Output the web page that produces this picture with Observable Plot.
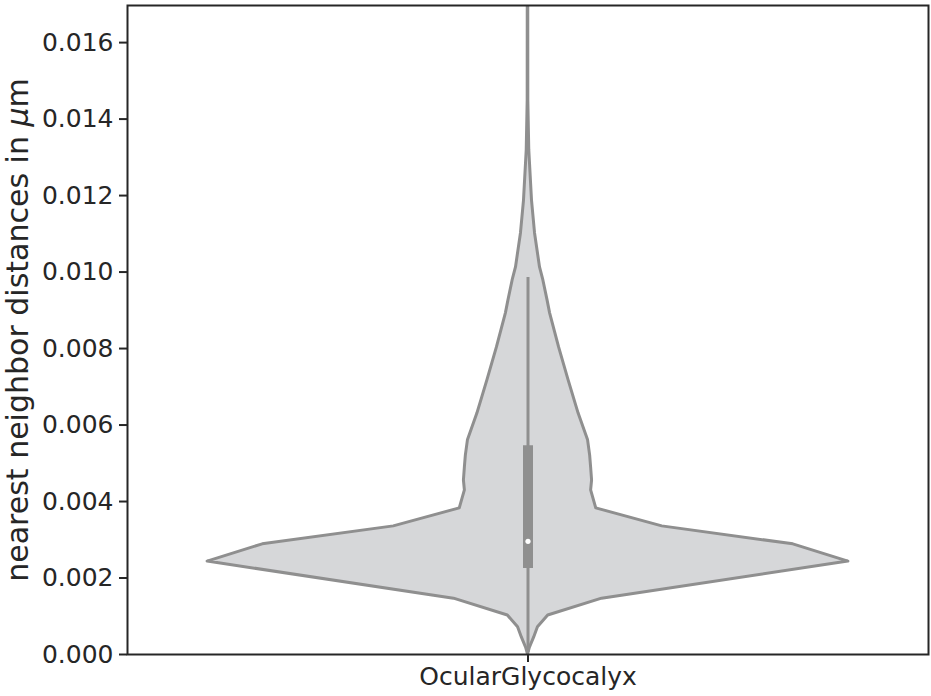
<!DOCTYPE html>
<html>
<head>
<meta charset="utf-8">
<script src="https://cdn.jsdelivr.net/npm/d3@7"></script>
<script src="https://cdn.jsdelivr.net/npm/@observablehq/plot@0.6"></script>
<style>
  html, body { margin: 0; padding: 0; background: #fff; }
  #chart { width: 931px; height: 696px; }
</style>
</head>
<body>
<div id="chart"></div>
<script>
// Category
const categories = ["OcularGlycocalyx"];

// Violin profile: distance value (µm) and relative density (max = 1)
const profileValues = [
  0.00000, 0.00018, 0.00044, 0.00071, 0.00102, 0.00146, 0.00243, 0.00288,
  0.00335, 0.00382, 0.00429, 0.00455, 0.00489, 0.00520, 0.00560, 0.00630,
  0.00716, 0.00803, 0.00892, 0.00926, 0.00978, 0.01012, 0.01101, 0.01187,
  0.01318, 0.01448, 0.01700
];
const profileDensity = [
  0.000, 0.006, 0.019, 0.031, 0.063, 0.231, 1.000, 0.828,
  0.419, 0.213, 0.197, 0.200, 0.197, 0.194, 0.1875, 0.158,
  0.127, 0.097, 0.069, 0.061, 0.048, 0.0375, 0.022, 0.0125,
  0.004, 0.001, 0.0008
];

// Inner box statistics
const whiskerLow = [0.00005];
const whiskerHigh = [0.00986];
const quartile1 = [0.00225];
const quartile3 = [0.00546];
const median = [0.00296];

// Y ticks
const yTicks = [0, 0.002, 0.004, 0.006, 0.008, 0.010, 0.012, 0.014, 0.016];

const yLabel = "nearest neighbor distances in μm";

const violin = profileValues.map((v, i) => ({cat: 0, v, d: profileDensity[i]}));
const stats = [{
  lo: whiskerLow[0], hi: whiskerHigh[0], q1: quartile1[0], q3: quartile3[0], med: median[0]
}];

const fillColor = "#d6d7d9";
const lineColor = "#8f8f8f";
const halfWidth = 0.4;

const plot = Plot.plot({
  width: 931,
  height: 696,
  marginLeft: 127,
  marginRight: 3,
  marginTop: 5,
  marginBottom: 42,
  style: {fontFamily: "DejaVu Sans", color: "#262626", background: "#fff"},
  x: {domain: [-0.5, 0.5], axis: null},
  y: {domain: [0, 0.01697], axis: null},
  marks: [
    Plot.areaX(violin, {
      y: "v",
      x1: d => -halfWidth * d.d,
      x2: d => halfWidth * d.d,
      fill: fillColor,
      stroke: lineColor,
      strokeWidth: 3,
      strokeLinejoin: "round",
      curve: "linear",
      clip: true
    }),
    Plot.ruleX(stats, {x: 0, y1: "lo", y2: "hi", stroke: lineColor, strokeWidth: 3}),
    Plot.ruleX(stats, {x: 0, y1: "q1", y2: "q3", stroke: lineColor, strokeWidth: 10}),
    Plot.dot(stats, {x: 0, y: "med", r: 2.6, fill: "#fff", stroke: null}),
    Plot.frame({stroke: "#262626", strokeWidth: 2}),
    Plot.axisY({
      ticks: yTicks,
      tickFormat: d3.format(".3f"),
      fontSize: 25,
      tickSize: 8,
      tickPadding: 6,
      stroke: "#262626",
      strokeWidth: 2,
      label: null
    }),
    Plot.axisX({
      ticks: [0],
      tickFormat: (d, i) => categories[i],
      fontSize: 25,
      tickSize: 8,
      tickPadding: 5,
      stroke: "#262626",
      strokeWidth: 2,
      label: null
    }),
    Plot.text([yLabel], {
      frameAnchor: "left",
      dx: -109,
      rotate: -90,
      fontSize: 30,
      fill: "#262626",
      textAnchor: "middle"
    })
  ]
});

document.getElementById("chart").appendChild(plot);

// Italicise the μ in the axis label (mathtext style)
d3.select(plot).selectAll("text").filter(function() { return this.textContent === yLabel; })
  .each(function() {
    const t = d3.select(this);
    t.text(null);
    t.append("tspan").text("nearest neighbor distances in ");
    t.append("tspan").attr("font-style", "italic").text("μ");
    t.append("tspan").text("m");
  });
</script>
</body>
</html>
